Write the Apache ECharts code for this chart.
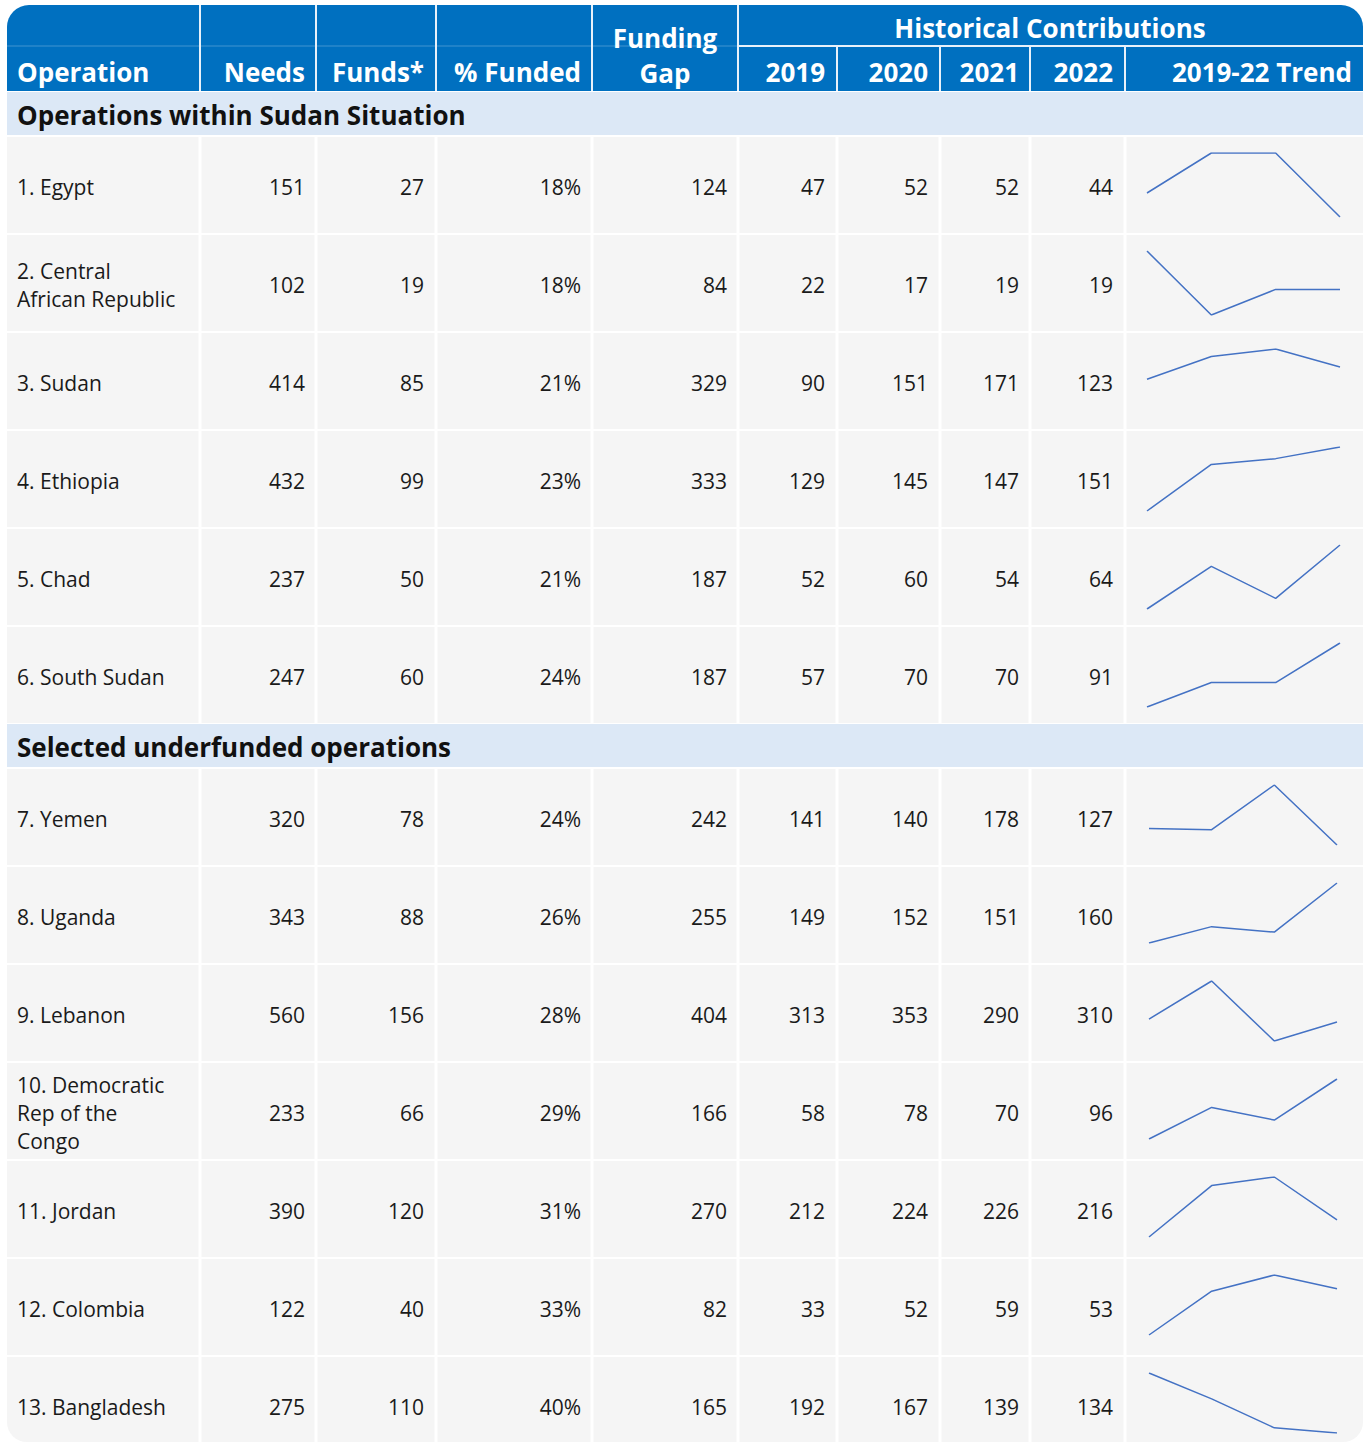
<!DOCTYPE html>
<html>
<head>
<meta charset="utf-8">
<title>Funding table</title>
<script src="https://cdn.jsdelivr.net/npm/echarts@6/dist/echarts.min.js"></script>
<style>
  html,body{margin:0;padding:0;background:#fff;}
  #main{width:1371px;height:1444px;}
</style>
</head>
<body>
<div id="main"></div>
<script>
// data
const operations = ['1. Egypt', '2. Central\nAfrican Republic', '3. Sudan', '4. Ethiopia', '5. Chad', '6. South Sudan',
  '7. Yemen', '8. Uganda', '9. Lebanon', '10. Democratic\nRep of the\nCongo', '11. Jordan', '12. Colombia', '13. Bangladesh']
const needs = [151, 102, 414, 432, 237, 247, 320, 343, 560, 233, 390, 122, 275]
const funds = [27, 19, 85, 99, 50, 60, 78, 88, 156, 66, 120, 40, 110]
const pctFunded = ['18%', '18%', '21%', '23%', '21%', '24%', '24%', '26%', '28%', '29%', '31%', '33%', '40%']
const fundingGap = [124, 84, 329, 333, 187, 187, 242, 255, 404, 166, 270, 82, 165]
const years = ['2019', '2020', '2021', '2022']
const c2019 = [47, 22, 90, 129, 52, 57, 141, 149, 313, 58, 212, 33, 192]
const c2020 = [52, 17, 151, 145, 60, 70, 140, 152, 353, 78, 224, 52, 167]
const c2021 = [52, 19, 171, 147, 54, 70, 178, 151, 290, 70, 226, 59, 139]
const c2022 = [44, 19, 123, 151, 64, 91, 127, 160, 310, 96, 216, 53, 134]
const sections = ['Operations within Sudan Situation', 'Selected underfunded operations']
const sectionStart = [0, 6]
const headers = ['Operation', 'Needs', 'Funds*', '% Funded', 'Funding\nGap']
const groupHeader = 'Historical Contributions'
const trendHeader = '2019-22 Trend'

const FONT = '"Open Sans", Lato, sans-serif'
const BLUE = '#0070c0'
const cols = [7, 200, 316, 436, 592, 738, 837, 940, 1030, 1125, 1363]

const myChart = echarts.init(document.getElementById('main'), null, { renderer: 'svg' })
const els = []

function txt(x, y, s, opt) {
  els.push({
    type: 'text', x: x, y: y, z: 10,
    style: Object.assign({
      text: s, fill: '#1a1a1a', font: '21px ' + FONT,
      textAlign: 'left', textVerticalAlign: 'middle', lineHeight: 28
    }, opt || {})
  })
}

// header
els.push({ type: 'rect', shape: { x: 7, y: 5, width: 1356, height: 86, r: [22, 22, 0, 0] }, style: { fill: BLUE } })
els.push({ type: 'line', shape: { x1: 7, y1: 46, x2: 1363, y2: 46 }, style: { stroke: 'rgba(255,255,255,0.25)', lineWidth: 1 }, z: 5 })
els.push({ type: 'line', shape: { x1: 738, y1: 46, x2: 1363, y2: 46 }, style: { stroke: '#e8f1fa', lineWidth: 2 }, z: 6 })
for (let c = 1; c < cols.length - 1; c++) {
  const y1 = c > 5 ? 47 : 5
  els.push({ type: 'line', shape: { x1: cols[c], y1: y1, x2: cols[c], y2: 91 }, style: { stroke: '#e8f1fa', lineWidth: 2 }, z: 6 })
}
const hFont = 'bold 26px ' + FONT
txt(17, 72, headers[0], { fill: '#fff', font: hFont })
txt(305, 72, headers[1], { fill: '#fff', font: hFont, textAlign: 'right' })
txt(424, 72, headers[2], { fill: '#fff', font: hFont, textAlign: 'right' })
txt(581, 72, headers[3], { fill: '#fff', font: hFont, textAlign: 'right' })
txt(665, 55, headers[4], { fill: '#fff', font: hFont, textAlign: 'center', lineHeight: 35 })
txt(1050, 28, groupHeader, { fill: '#fff', font: hFont, textAlign: 'center' })
const rightEdges = [825, 928, 1019, 1113]
years.forEach((yr, k) => txt(rightEdges[k], 72, yr, { fill: '#fff', font: hFont, textAlign: 'right' }))
txt(1352, 72, trendHeader, { fill: '#fff', font: hFont, textAlign: 'right' })

// rows
const rowCenters = []
let y = 92
const BOTTOM = 1442
operations.forEach((op, i) => {
  const s = sectionStart.indexOf(i)
  if (s >= 0) {
    if (s > 0) y -= 1
    els.push({ type: 'rect', shape: { x: 7, y: y, width: 1356, height: 43 }, style: { fill: '#dce8f6' } })
    txt(17, y + 23, sections[s], { font: 'bold 26px ' + FONT, fill: '#111' })
    y += 45
  }
  const top = y
  const h = Math.min(96, BOTTOM - top)
  const last = i === operations.length - 1
  for (let c = 0; c < cols.length - 1; c++) {
    const x0 = cols[c] + (c > 0 ? 1.5 : 0)
    const x1 = cols[c + 1] - (c < cols.length - 2 ? 1.5 : 0)
    let r = 0
    if (last && c === 0) r = [0, 0, 0, 20]
    if (last && c === cols.length - 2) r = [0, 0, 20, 0]
    els.push({ type: 'rect', shape: { x: x0, y: top, width: x1 - x0, height: h, r: r }, style: { fill: '#f5f5f5' } })
  }
  const cy = top + 50
  rowCenters.push(cy)
  txt(17, cy, op)
  txt(305, cy, String(needs[i]), { textAlign: 'right' })
  txt(424, cy, String(funds[i]), { textAlign: 'right' })
  txt(581, cy, pctFunded[i], { textAlign: 'right' })
  txt(727, cy, String(fundingGap[i]), { textAlign: 'right' })
  txt(825, cy, String(c2019[i]), { textAlign: 'right' })
  txt(928, cy, String(c2020[i]), { textAlign: 'right' })
  txt(1019, cy, String(c2021[i]), { textAlign: 'right' })
  txt(1113, cy, String(c2022[i]), { textAlign: 'right' })
  y += 98
})

// sparklines
const grid = [], xAxis = [], yAxis = [], series = []
operations.forEach((op, i) => {
  const first = i < 6
  grid.push({
    left: first ? 1147 : 1149,
    width: first ? 193 : 188,
    top: rowCenters[i] - (first ? 34 : 34),
    height: first ? 64 : 60
  })
  xAxis.push({ type: 'category', data: years, gridIndex: i, boundaryGap: false, show: false })
  yAxis.push({ type: 'value', gridIndex: i, show: false, scale: true,
    min: op === '3. Sudan' ? 0 : 'dataMin', max: 'dataMax' })
  series.push({
    type: 'line', xAxisIndex: i, yAxisIndex: i, name: op,
    data: [c2019[i], c2020[i], c2021[i], c2022[i]],
    showSymbol: false, silent: true, z: 20,
    lineStyle: { color: '#4472c4', width: 1.5 }
  })
})

const option = {
  animation: false,
  backgroundColor: '#fff',
  graphic: { elements: els },
  grid: grid,
  xAxis: xAxis,
  yAxis: yAxis,
  series: series
}
myChart.setOption(option)
</script>
</body>
</html>
